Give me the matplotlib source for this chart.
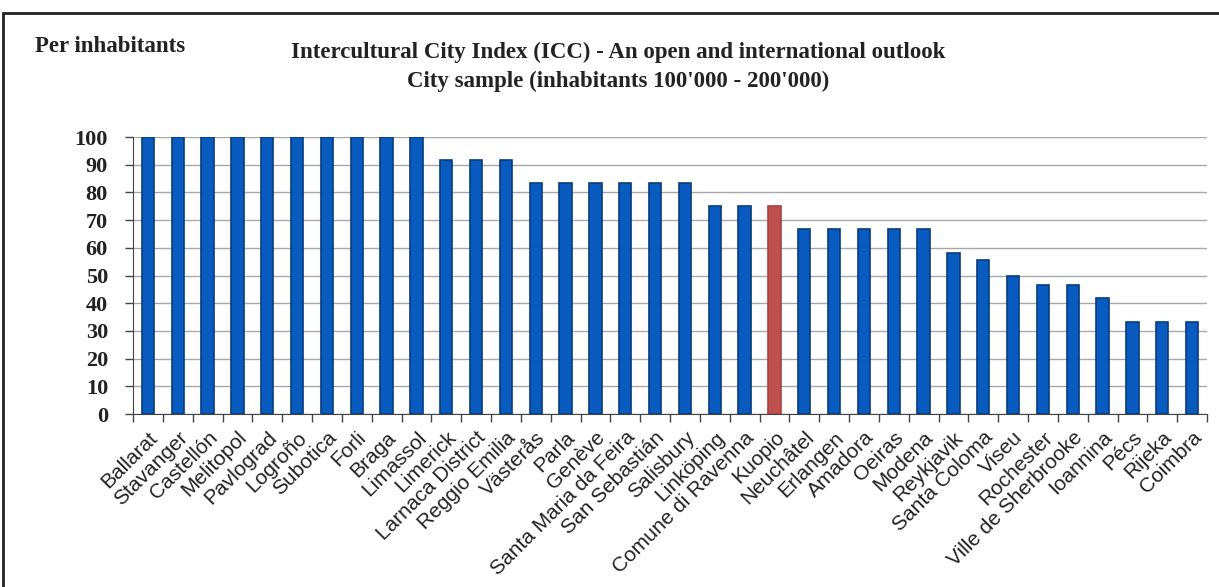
import matplotlib.pyplot as plt
import matplotlib.patches as mpatches
import numpy as np

cities = ["Ballarat", "Stavanger", "Castellón", "Melitopol", "Pavlograd", "Logroño",
          "Subotica", "Forli", "Braga", "Limassol", "Limerick", "Larnaca District",
          "Reggio Emilia", "Västerås", "Parla", "Genève", "Santa Maria da Feira",
          "San Sebastián", "Salisbury", "Linköping", "Comune di Ravenna", "Kuopio",
          "Neuchâtel", "Erlangen", "Amadora", "Oeiras", "Modena", "Reykjavik",
          "Santa Coloma", "Viseu", "Rochester", "Ville de Sherbrooke", "Ioannina",
          "Pécs", "Rijeka", "Coimbra"]
scores = [100, 100, 100, 100, 100, 100, 100, 100, 100, 100,
          91.7, 91.7, 91.7, 83.3, 83.3, 83.3, 83.3, 83.3, 83.3,
          75, 75, 75, 66.7, 66.7, 66.7, 66.7, 66.7, 58.3,
          55.6, 50, 46.7, 46.7, 41.7, 33.3, 33.3, 33.3]
highlight = "Kuopio"
y_ticks = list(range(0, 101, 10))

W, H = 1219, 587
fig = plt.figure(figsize=(W / 100, H / 100), dpi=100)

# outer frame
fig.patches.append(mpatches.Rectangle((3 / W, -0.05), 1.05, 1 - 13 / H + 0.05,
                                      transform=fig.transFigure, fill=False,
                                      edgecolor="#222222", linewidth=2))

ax = fig.add_axes([133 / W, 1 - 414 / H, (1207 - 133) / W, (414 - 137) / H])

x = np.arange(len(cities))
colors = ["#C0504D" if c == highlight else "#0A5BC0" for c in cities]
edges = ["#A84340" if c == highlight else "#073C80" for c in cities]
ax.bar(x, scores, width=0.41, color=colors, edgecolor=edges, linewidth=1.2, zorder=3)

ax.set_xlim(-0.5, len(cities) - 0.5)
ax.set_ylim(0, 100)
ax.set_yticks(y_ticks)
ax.set_yticklabels([str(v) for v in y_ticks], fontsize=16, fontweight="bold",
                   family="Liberation Serif", color="#222222")
ax.yaxis.grid(True, color="#a8a8a8", linewidth=1.0, zorder=0)
ax.tick_params(axis="y", length=6, width=1, color="#444444", pad=12)

ax.set_xticks(x)
ax.set_xticklabels(cities, rotation=45, ha="right", rotation_mode="anchor",
                   fontsize=15, family="Liberation Sans", color="#222222")
ax.set_xticks(np.arange(-0.5, len(cities)), minor=True)
ax.tick_params(axis="x", which="major", length=0, pad=10)
ax.tick_params(axis="x", which="minor", length=6, width=1, color="#444444")

for s in ["top", "right"]:
    ax.spines[s].set_visible(False)
ax.spines["left"].set_color("#444444")
ax.spines["bottom"].set_color("#444444")

fig.text(35 / W, 1 - 47 / H, "Per inhabitants", fontsize=16.5, fontweight="bold",
         family="Liberation Serif", va="center", color="#222222")
fig.text(618 / W, 1 - 52 / H, "Intercultural City Index (ICC) - An open and international outlook",
         fontsize=16.5, fontweight="bold", family="Liberation Serif", ha="center", va="center",
         color="#222222")
fig.text(618 / W, 1 - 81 / H, "City sample (inhabitants 100'000 - 200'000)",
         fontsize=16.5, fontweight="bold", family="Liberation Serif", ha="center", va="center",
         color="#222222")

fig.savefig("out.png", dpi=100)
